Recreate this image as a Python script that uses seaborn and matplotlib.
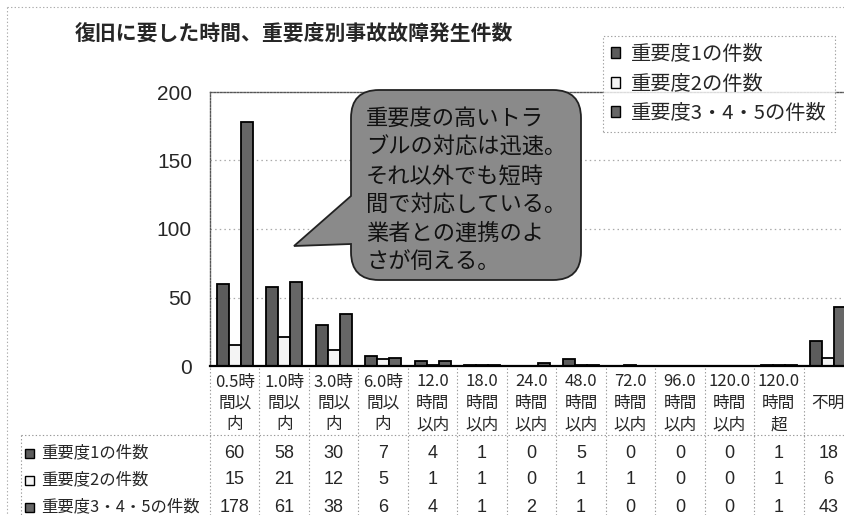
import numpy as np
import pandas as pd
import matplotlib
matplotlib.use("Agg")
import matplotlib.pyplot as plt
import seaborn as sns
from matplotlib.path import Path
from matplotlib.patches import PathPatch, Patch, Rectangle
from matplotlib import transforms
from matplotlib.lines import Line2D

# ---------------- data ----------------
title = "復旧に要した時間、重要度別事故故障発生件数"
categories = ["0.5時\n間以\n内", "1.0時\n間以\n内", "3.0時\n間以\n内", "6.0時\n間以\n内",
              "12.0\n時間\n以内", "18.0\n時間\n以内", "24.0\n時間\n以内", "48.0\n時間\n以内",
              "72.0\n時間\n以内", "96.0\n時間\n以内", "120.0\n時間\n以内", "120.0\n時間\n超", "不明"]
series = ["重要度1の件数", "重要度2の件数", "重要度3・4・5の件数"]
sev1 = [60, 58, 30, 7, 4, 1, 0, 5, 0, 0, 0, 1, 18]
sev2 = [15, 21, 12, 5, 1, 1, 0, 1, 1, 0, 0, 1, 6]
sev345 = [178, 61, 38, 6, 4, 1, 2, 1, 0, 0, 0, 1, 43]
yticks = [0, 50, 100, 150, 200]
callout_lines = ["重要度の高いトラ", "ブルの対応は迅速。", "それ以外でも短時",
                 "間で対応している。", "業者との連携のよ", "さが伺える。"]

colors = ["#5c5c5c", "#f4f4f4", "#666666"]

# ---------------- style ----------------
sns.set_theme(style="white")
plt.rcParams["font.family"] = ["Noto Sans CJK JP", "DejaVu Sans"]
NUM_FONT = ["Liberation Sans", "DejaVu Sans"]

W, H = 844, 515
fig = plt.figure(figsize=(W / 100, H / 100), dpi=100)
fig.patch.set_facecolor("white")


def fx(p):
    return p / W


def fy(p):
    return 1 - p / H


ax = fig.add_axes([fx(210), fy(366), (853 - 210) / W, (366 - 92) / H])

df = pd.DataFrame({
    "cat": categories * 3,
    "series": np.repeat(series, len(categories)),
    "value": sev1 + sev2 + sev345,
})
sns.barplot(data=df, x="cat", y="value", hue="series", order=categories,
            hue_order=series, palette=colors, width=0.73, gap=0,
            edgecolor="black", linewidth=1.3, legend=False, ax=ax,
            errorbar=None, zorder=2)

ax.set_xlim(-0.5, 12.5)
ax.set_ylim(0, 200)
ax.set_xlabel("")
ax.set_ylabel("")
ax.set_xticks(range(len(categories)))
ax.set_xticklabels([])
ax.set_yticks(yticks)
ax.set_yticklabels([str(v) for v in yticks], fontsize=15, family=NUM_FONT)
ax.tick_params(axis="both", length=0)
ax.tick_params(axis="y", pad=13)

for v in yticks[1:-1]:
    ax.axhline(v, color="#aaaaaa", ls=(0, (1.2, 2.5)), lw=0.9, zorder=0.5)

ax.spines["right"].set_visible(False)
ax.spines["top"].set_color("#555555")
ax.spines["top"].set_linestyle((0, (1.2, 1.2)))
ax.spines["top"].set_linewidth(1.0)
ax.spines["left"].set_color("#555555")
ax.spines["left"].set_linestyle((0, (1.2, 1.2)))
ax.spines["left"].set_linewidth(1.0)
ax.spines["bottom"].set_color("black")
ax.spines["bottom"].set_linewidth(1.6)
ax.spines["bottom"].set_zorder(5)

# ---------------- data table below the axis ----------------
blend = transforms.blended_transform_factory(ax.transData, fig.transFigure)
line_y = [382, 403, 425]
for i, lab in enumerate(categories):
    parts = lab.split("\n")
    ys = line_y if len(parts) == 3 else [403]
    for p, yy in zip(parts, ys):
        ax.text(i, fy(yy), p, transform=blend, ha="center", va="center",
                fontsize=12, clip_on=False)

row_y = [453, 480, 507]
for vals, yy in zip([sev1, sev2, sev345], row_y):
    for i, v in enumerate(vals):
        ax.text(i, fy(yy), str(v), transform=blend, ha="center", va="center",
                fontsize=13, family=NUM_FONT, clip_on=False)

for name, c, yy in zip(series, colors, row_y):
    fig.add_artist(Rectangle((fx(25), fy(yy + 4.5)), 9 / W, 9 / H,
                             facecolor=c, edgecolor="black", lw=1.0,
                             transform=fig.transFigure))
    fig.text(fx(41), fy(yy), name, ha="left", va="center", fontsize=11.8)

grid_kw = dict(color="#999999", lw=0.8, ls=(0, (1.2, 2)))
for k in range(len(categories) + 1):
    ax.add_line(Line2D([k - 0.5, k - 0.5], [fy(368), fy(515)], transform=blend,
                       clip_on=False, **grid_kw))
fig.add_artist(Line2D([fx(21), fx(844)], [fy(435), fy(435)], **grid_kw))
fig.add_artist(Line2D([fx(21), fx(21)], [fy(435), fy(515)], **grid_kw))

# outer chart-area border (dotted)
border_kw = dict(color="#aaaaaa", lw=0.8, ls=(0, (1.2, 2)))
fig.add_artist(Line2D([fx(7), fx(844)], [fy(7), fy(7)], **border_kw))
fig.add_artist(Line2D([fx(7), fx(7)], [fy(7), fy(515)], **border_kw))

# ---------------- title ----------------
fig.text(fx(75), fy(34), title, ha="left", va="center", fontsize=15,
         fontweight="bold")

# ---------------- callout bubble ----------------
def P(x, y):
    return (x / 100.0, (H - y) / 100.0)


x0, x1, y0, y1, r = 351, 581, 90, 280, 28
verts = [P(x0 + r, y0), P(x1 - r, y0), P(x1, y0), P(x1, y0 + r),
         P(x1, y1 - r), P(x1, y1), P(x1 - r, y1),
         P(x0 + r, y1), P(x0, y1), P(x0, y1 - r),
         P(x0, 244), P(294, 246), P(x0, 196),
         P(x0, y0 + r), P(x0, y0), P(x0 + r, y0), P(x0 + r, y0)]
codes = [Path.MOVETO, Path.LINETO, Path.CURVE3, Path.CURVE3,
         Path.LINETO, Path.CURVE3, Path.CURVE3,
         Path.LINETO, Path.CURVE3, Path.CURVE3,
         Path.LINETO, Path.LINETO, Path.LINETO,
         Path.LINETO, Path.CURVE3, Path.CURVE3, Path.CLOSEPOLY]
bubble = PathPatch(Path(verts, codes), facecolor="#8a8a8a", edgecolor="#222222",
                   lw=1.3, transform=fig.dpi_scale_trans, zorder=10)
fig.add_artist(bubble)
for ln, yy in zip(callout_lines, [118, 147, 177, 205, 233, 262]):
    fig.text(fx(366), fy(yy), ln, ha="left", va="center", fontsize=16,
             color="#111111", zorder=11)

# ---------------- legend ----------------
handles = [Patch(facecolor=c, edgecolor="black", lw=1.0) for c in colors]
leg = fig.legend(handles, series, loc="upper left",
                 bbox_to_anchor=(fx(603), fy(36)), fontsize=14.6, frameon=True,
                 fancybox=False, edgecolor="#888888", handlelength=0.45,
                 handleheight=0.45, handletextpad=0.55, labelspacing=0.42,
                 borderpad=0.4, borderaxespad=0)
leg.get_frame().set_linestyle((0, (1.2, 2)))
leg.get_frame().set_linewidth(0.8)
leg.set_zorder(12)

fig.savefig("out.png", dpi=100)
